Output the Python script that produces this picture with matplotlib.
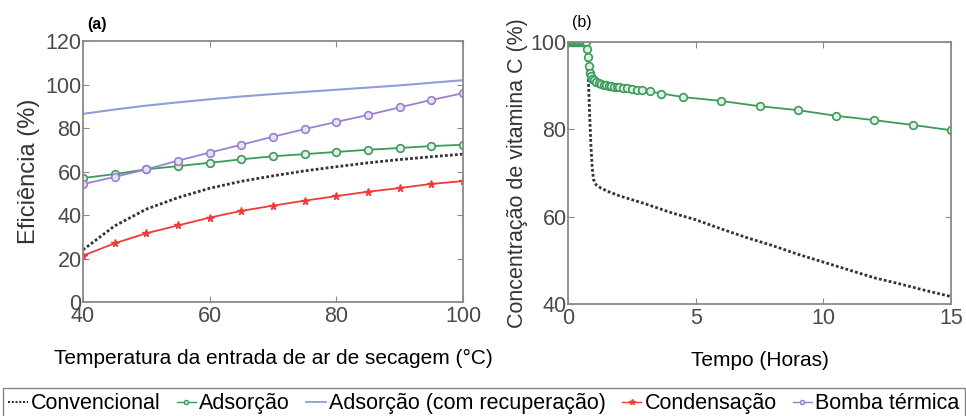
import matplotlib
matplotlib.use("Agg")
import matplotlib.pyplot as plt
from matplotlib.lines import Line2D

plt.rcParams['font.family'] = ['Liberation Sans', 'DejaVu Sans']

# (a) eficiência vs temperatura de entrada
temp = [40, 45, 50, 55, 60, 65, 70, 75, 80, 85, 90, 95, 100]
ef_convencional = [24, 35, 42.7, 48, 52.3, 55.5, 58, 60.3, 62.2, 64, 65.5, 66.8, 68]
ef_adsorcao = [57, 58.8, 61, 62.5, 64, 65.6, 67, 68, 69, 70, 70.8, 71.7, 72.3]
ef_adsorcao_rec = [86.5, 88.5, 90.3, 91.8, 93.2, 94.5, 95.6, 96.6, 97.6, 98.6, 99.6, 100.8, 102]
ef_condensacao = [21.3, 27, 31.6, 35.2, 38.8, 41.9, 44.3, 46.6, 48.7, 50.7, 52.4, 54.3, 55.6]
ef_bomba = [54.2, 57.5, 61, 65, 68.7, 72.3, 76, 79.5, 82.8, 86, 89.5, 92.9, 96]

# (b) vitamina C vs tempo
t_conv = [0, 0.7, 0.75, 0.8, 0.85, 0.9, 0.95, 1.0, 1.1, 1.3, 1.6, 2, 3, 4, 5,
          6, 7, 8, 9, 10, 11, 12, 13, 14, 15]
vc_conv = [100, 100, 97, 91, 83, 76, 71, 68.5, 67.3, 66.5, 65.7, 64.8, 63, 61, 59.3,
           57.2, 55.2, 53.4, 51.4, 49.6, 47.8, 46, 44.6, 43.1, 41.7]
t_ads = [0, 0.05, 0.1, 0.15, 0.2, 0.25, 0.3, 0.35, 0.4, 0.45, 0.5, 0.55, 0.6, 0.65, 0.7,
         0.75, 0.78, 0.82, 0.86, 0.9, 0.95, 1.0, 1.1, 1.2, 1.3, 1.4, 1.5, 1.6, 1.7,
         1.8, 1.9, 2.0, 2.15, 2.3, 2.5, 2.7, 2.9, 3.2, 3.66, 4.5, 6.0, 7.5, 9.0,
         10.5, 12.0, 13.5, 15.0]
vc_ads = [100, 100, 100, 100, 100, 100, 100, 100, 100, 100, 100, 100, 100, 100, 100,
          98.5, 96.5, 94.5, 93, 92.2, 91.6, 91.2, 90.8, 90.6, 90.4, 90.2, 90.1, 90.0, 89.9,
          89.8, 89.7, 89.6, 89.5, 89.4, 89.2, 89.0, 88.9, 88.7, 88.2, 87.4, 86.5, 85.3, 84.4,
          83.1, 82.1, 81.0, 79.8]

c_conv = '#333333'
c_ads = '#3d9a5c'
c_rec = '#8f9ddb'
c_cond = '#f03a3a'
c_bomba = '#9a80d0'
dot = (0, (1, 0.8))

fig = plt.figure(figsize=(9.66, 4.16), dpi=100)
ax1 = fig.add_axes([0.0859, 0.274, 0.3934, 0.6274])
ax2 = fig.add_axes([0.588, 0.2692, 0.3965, 0.6298])

ax1.plot(temp, ef_convencional, color=c_conv, linestyle=dot, lw=2)
ax1.plot(temp, ef_adsorcao, color=c_ads, marker='o', ms=5.5, mfc='#e2f0e2', mew=1.2, lw=1.3)
ax1.plot(temp, ef_adsorcao_rec, color=c_rec, lw=1.5)
ax1.plot(temp, ef_condensacao, color=c_cond, marker='*', ms=5.5, lw=1.3)
ax1.plot(temp, ef_bomba, color=c_bomba, marker='o', ms=5.5, mfc='#e8e0f6', mew=1.2, lw=1.3)
ax1.set_xlim(40, 100)
ax1.set_ylim(0, 120)
ax1.set_xticks([40, 60, 80, 100])
ax1.set_yticks(range(0, 121, 20))

ax2.plot(t_conv, vc_conv, color=c_conv, linestyle=dot, lw=2)
ax2.plot(t_ads, vc_ads, color=c_ads, marker='o', ms=5.5, mfc='#e2f0e2', mew=1.2, lw=1.3)
ax2.set_xlim(0, 15)
ax2.set_ylim(40, 100)
ax2.set_xticks([0, 5, 10, 15])
ax2.set_yticks([40, 60, 80, 100])

for ax in (ax1, ax2):
    for s in ax.spines.values():
        s.set_color('#8a8a8a')
        s.set_linewidth(1.3)
    ax.tick_params(direction='in', top=True, right=True, length=4, color='#8a8a8a',
                   labelsize=15.5, labelcolor='#4a4a4a', pad=1)
    ax.tick_params(axis='x', pad=3)

ax1.set_ylabel('Eficiência (%)', fontsize=17, color='#333333', labelpad=4)
ax2.set_ylabel('Concentração de vitamina C (%)', fontsize=15.5, color='#333333', labelpad=2)
ax1.set_xlabel('Temperatura da entrada de ar de secagem (°C)', fontsize=15, labelpad=16)
ax2.set_xlabel('Tempo (Horas)', fontsize=15, labelpad=16)
fig.text(0.090, 0.941, '(a)', fontsize=11.5, fontweight='bold', va='center')
fig.text(0.592, 0.946, '(b)', fontsize=11.5, va='center')

handles = [
    Line2D([], [], color=c_conv, linestyle=dot, lw=1.5),
    Line2D([], [], color=c_ads, marker='o', ms=3, mfc='#d8ecd8', lw=1),
    Line2D([], [], color=c_rec, lw=1.3),
    Line2D([], [], color=c_cond, marker='*', ms=4, lw=1),
    Line2D([], [], color=c_bomba, marker='o', ms=3, mfc='#e4dcf4', lw=1),
]
labels = ['Convencional', 'Adsorção', 'Adsorção (com recuperação)', 'Condensação', 'Bomba térmica']
leg = fig.legend(handles, labels, loc='upper left', bbox_to_anchor=(0.003, 1 - 388 / 416), ncol=5,
                 fontsize=15.5, handlelength=0.9, handletextpad=0.15, columnspacing=0.75,
                 frameon=True, fancybox=False, borderpad=0.25, borderaxespad=0)
leg.get_frame().set_edgecolor('#666666')
leg.get_frame().set_linewidth(1)

fig.savefig('out.png', dpi=100)
